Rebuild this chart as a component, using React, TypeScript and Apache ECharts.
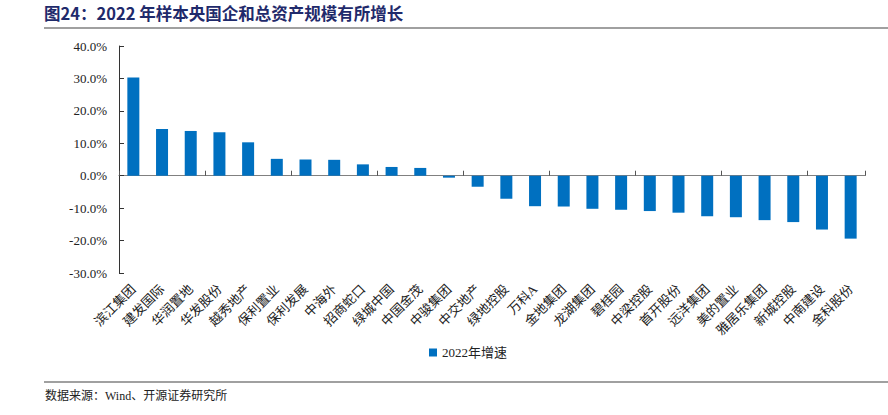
import React, { useEffect, useRef } from "react";
import * as echarts from "echarts";

const categories = ["滨江集团","建发国际","华润置地","华发股份","越秀地产","保利置业","保利发展","中海外","招商蛇口","绿城中国","中国金茂","中骏集团","中交地产","绿地控股","万科A","金地集团","龙湖集团","碧桂园","中梁控股","首开股份","远洋集团","美的置业","雅居乐集团","新城控股","中南建设","金科股份"];
const growth2022 = [30.3,14.4,13.8,13.4,10.3,5.2,5.0,4.9,3.5,2.7,2.4,-0.6,-3.4,-7.1,-9.4,-9.5,-10.2,-10.5,-10.9,-11.4,-12.5,-12.8,-13.7,-14.3,-16.6,-19.4];
const seriesName = "2022年增速";
const titleText = "图24：2022 年样本央国企和总资产规模有所增长";
const sourceText = "数据来源：Wind、开源证券研究所";

const serif = "'Liberation Serif', 'Times New Roman', 'Noto Sans CJK SC', serif";

export default function App() {
  const ref = useRef<HTMLDivElement>(null);
  useEffect(() => {
    if (!ref.current) return;
    const chart = echarts.init(ref.current, undefined, { renderer: "svg" });
    chart.setOption({
      animation: false,
      backgroundColor: "#fff",
      textStyle: { fontFamily: serif },
      grid: { left: 119, right: 23, top: 46, bottom: 142, containLabel: false },
      legend: {
        data: [seriesName],
        left: 424, top: 341,
        icon: "rect", itemWidth: 8, itemHeight: 8, itemGap: 4,
        textStyle: { fontSize: 13, color: "#222", fontFamily: serif },
      },
      graphic: [
        { type: "text", left: 44, top: 5, style: { text: titleText, fontSize: 16.5, fontWeight: "bold", fill: "#1F2A6B", fontFamily: "'Noto Sans CJK SC', sans-serif" } },
        { type: "line", shape: { x1: 44, y1: 28, x2: 888, y2: 28 }, style: { stroke: "#808080", lineWidth: 1.5 } },
        { type: "line", shape: { x1: 44, y1: 382, x2: 888, y2: 382 }, style: { stroke: "#808080", lineWidth: 1.5 } },
        { type: "text", left: 45, top: 390, style: { text: sourceText, fontSize: 12, fill: "#222", fontFamily: serif } },
      ],
      xAxis: [
        {
          type: "category", data: categories, position: "bottom",
          axisLine: { onZero: true, lineStyle: { color: "#808080", width: 1.2 } },
          axisTick: { show: true, inside: true, length: 5, lineStyle: { color: "#555" } },
          axisLabel: { show: false },
        },
        {
          type: "category", data: categories, position: "bottom",
          axisLine: { show: false, onZero: false },
          axisTick: { show: false },
          axisLabel: { interval: 0, rotate: 45, fontSize: 13, color: "#222", margin: 14, fontFamily: serif },
        },
      ],
      yAxis: {
        type: "value", min: -30, max: 40, interval: 10,
        axisLine: { show: true, lineStyle: { color: "#333" } },
        axisTick: { show: true, inside: true, length: 5, lineStyle: { color: "#333" } },
        splitLine: { show: false },
        axisLabel: { formatter: (v: number) => v.toFixed(1) + "%", fontSize: 13, color: "#222", margin: 12, fontFamily: serif },
      },
      series: [
        {
          name: seriesName, type: "bar", xAxisIndex: 0, data: growth2022,
          barWidth: 12,
          itemStyle: { color: "#0070C0" },
        },
      ],
    });
    return () => chart.dispose();
  }, []);
  return <div ref={ref} style={{ width: 888, height: 415, position: "absolute", left: 0, top: 0 }} />;
}
